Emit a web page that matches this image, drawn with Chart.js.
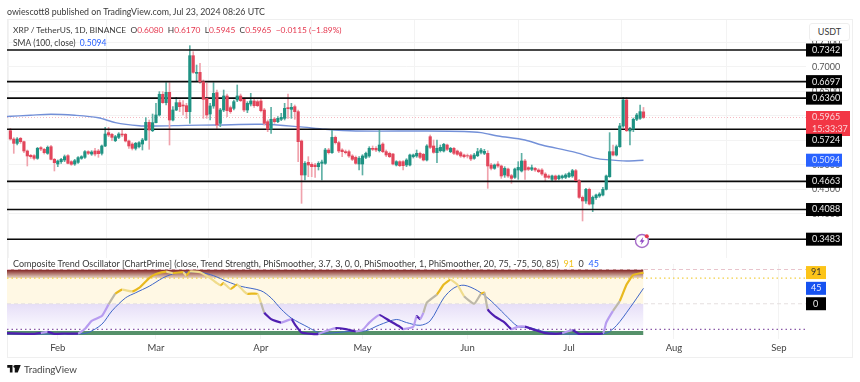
<!DOCTYPE html>
<html>
<head>
<meta charset="utf-8">
<title>XRP / TetherUS</title>
<script src="https://cdn.jsdelivr.net/npm/chart.js@4"></script>
<style>
html, body { margin: 0; padding: 0; background: #fff; }
body { width: 860px; height: 382px; position: relative; overflow: hidden; font-family: Lato, "Open Sans", sans-serif; color: #3a3a3a; }
canvas { position: absolute; left: 0; top: 0; }
#frame { position: absolute; left: 7px; top: 19px; width: 844px; height: 337px; border: 1px solid #efefef; }
.txt { position: absolute; white-space: nowrap; font-size: 9px; line-height: 11px; }
.red { color: #e5384f; }
.blue { color: #2962ff; }
.yel { color: #f2c21a; }
#usdt { position: absolute; left: 809px; top: 23px; width: 39px; height: 16px; border: 1px solid #eee; border-radius: 3px; font-size: 9px; line-height: 16px; text-align: center; background: #fff; }
#logo { position: absolute; left: 7px; top: 365px; }
#bolt { position: absolute; left: 634px; top: 233px; }
</style>
</head>
<body>
<div id="frame"></div>
<canvas id="priceChart" width="860" height="382"></canvas>
<canvas id="oscChart" width="860" height="382"></canvas>

<div class="txt" style="left:7px;top:6px;font-size:8.8px">owiescott8 published on TradingView.com, Jul 23, 2024 08:26 UTC</div>
<div class="txt" style="left:13px;top:25px;font-size:8.4px">XRP / TetherUS, 1D, BINANCE &nbsp;O<span class="red">0.6080</span> &nbsp;H<span class="red">0.6170</span> &nbsp;L<span class="red">0.5945</span> &nbsp;C<span class="red">0.5965</span> &nbsp;<span class="red">−0.0115 (−1.89%)</span></div>
<div class="txt" style="left:13px;top:38px;font-size:8.5px">SMA (100, close) &nbsp;<span class="blue">0.5094</span></div>
<div class="txt" style="left:13px;top:258px">Composite Trend Oscillator [ChartPrime] (close, Trend Strength, PhiSmoother, 3.7, 3, 0, 0, PhiSmoother, 1, PhiSmoother, 20, 75, -75, 50, 85) &nbsp;<span class="yel">91</span> &nbsp;0 &nbsp;<span class="blue">45</span></div>
<div id="usdt">USDT</div>
<svg id="bolt" width="16" height="16" viewBox="0 0 16 16"><circle cx="8" cy="8" r="6.5" fill="#fff" stroke="#a66cc8" stroke-width="1.4"/><path d="M9.2 4 5.6 8.8h2.2L6.8 12 10.6 7.2H8.4z" fill="#8e44c4"/><circle cx="12.8" cy="3.2" r="2" fill="#e5384f"/></svg>
<svg id="logo" width="14" height="9" viewBox="0 0 36 24"><path d="M0 0h14v20H7V7H0zM20 0h16l-8 20h-8z" fill="#111"/><circle cx="20" cy="4" r="3.5" fill="#111"/></svg>
<div class="txt" style="left:24px;top:363px;font-size:9.8px;line-height:13px;color:#444">TradingView</div>

<script>
// day slots on the time axis, Jan 17 to Sep 9 2024
const days = [];
for (let d = new Date(Date.UTC(2024, 0, 17)); d <= new Date(Date.UTC(2024, 8, 9)); d.setUTCDate(d.getUTCDate() + 1)) {
    days.push(d.toISOString().slice(0, 10));
}
const candleDays = days.slice(1, 189);
const monthDays = ['2024-02-01', '2024-03-01', '2024-04-01', '2024-05-01', '2024-06-01', '2024-07-01', '2024-08-01', '2024-09-01'];
const monthNames = ['Feb', 'Mar', 'Apr', 'May', 'Jun', 'Jul', 'Aug', 'Sep'];

const opens = [
    .5696,.5526,.5438,.5540,.5472,.5282,.5194,.5186,.5132,.5350,.5316,.5234,.5370,.5112,.5016,.5064,.5098,.5186,.5064,.5016,
    .5050,.5132,.5153,.5268,.5220,.5282,.5282,.5234,.5384,.5656,.5622,.5492,.5560,.5628,.5622,.5486,.5424,.5336,.5370,.5424,
    .5506,.5866,.5696,.5860,.6016,.6438,.6268,.6478,.5914,.6118,.6268,.6220,.6206,.6084,.7226,.6866,.6886,.6696,.6356,.6036,
    .6200,.6472,.5846,.6118,.6404,.6166,.6152,.6322,.6404,.6336,.6118,.6240,.6302,.6288,.6302,.6118,.5880,.5724,.5934,.5880,
    .5928,.5948,.6166,.6132,.6186,.6084,.5486,.4792,.5050,.5010,.4996,.4962,.5030,.5030,.5302,.5248,.5560,.5452,.5302,.5268,
    .5268,.5180,.5152,.5016,.5016,.5152,.5180,.5336,.5336,.5288,.5424,.5268,.5234,.5220,.4996,.5064,.5064,.4996,.4996,.5166,
    .5180,.5234,.5214,.5098,.5574,.5384,.5248,.5288,.5282,.5404,.5268,.5336,.5282,.5248,.5200,.5186,.5186,.5132,.5186,.5254,
    .5234,.5234,.4996,.4928,.5016,.4976,.4792,.4914,.4778,.4744,.4894,.4874,.5078,.4942,.4908,.4928,.4894,.4894,.4812,.4772,
    .4704,.4772,.4717,.4738,.4744,.4758,.4772,.4880,.4676,.4336,.4262,.4500,.4200,.4330,.4364,.4384,.4500,.4758,.5268,.5200,
    .5370,.5792,.6322,.5690,.5724,.5928,.5948,.6080
];
const highs = [
    .5744,.5554,.5554,.5560,.5486,.5302,.5214,.5207,.5356,.5370,.5336,.5384,.5397,.5132,.5098,.5132,.5200,.5207,.5084,.5112,
    .5166,.5186,.5288,.5288,.5288,.5336,.5316,.5404,.5764,.5764,.5642,.5601,.5656,.5710,.5642,.5506,.5452,.5458,.5472,.5540,
    .5962,.5914,.6036,.6254,.6492,.6492,.6676,.6676,.6186,.6376,.6322,.6308,.6254,.7430,.7308,.7036,.7070,.6730,.6662,.6254,
    .6676,.6526,.6152,.6526,.6444,.6200,.6322,.6628,.6444,.6363,.6288,.6458,.6336,.6322,.6336,.6152,.5914,.6172,.5968,.5982,
    .6050,.6254,.6444,.6254,.6220,.6118,.5506,.5064,.5166,.5044,.5030,.5064,.5098,.5336,.5336,.5724,.5588,.5479,.5329,.5302,
    .5302,.5207,.5180,.5166,.5207,.5261,.5370,.5384,.5370,.5724,.5452,.5302,.5261,.5234,.5084,.5084,.5084,.5125,.5220,.5220,
    .5302,.5261,.5234,.5411,.5608,.5506,.5506,.5404,.5438,.5424,.5356,.5356,.5302,.5275,.5220,.5220,.5214,.5234,.5336,.5336,
    .5316,.5288,.5030,.5016,.5064,.4996,.4962,.4935,.4806,.4935,.5064,.5234,.5112,.4962,.4996,.4948,.4921,.4921,.4840,.4799,
    .4792,.4792,.4792,.4792,.4819,.4853,.4908,.4908,.4704,.4364,.4520,.4527,.4364,.4404,.4432,.4540,.4792,.5656,.5404,.5404,
    .5846,.6376,.6376,.5764,.5955,.6050,.6220,.6170
];
const lows = [
    .5506,.5234,.5404,.5438,.5248,.4976,.5132,.5098,.5112,.5288,.5220,.5214,.5098,.4874,.4962,.5030,.5064,.5016,.4989,.4989,
    .5030,.5112,.5132,.5207,.5193,.5180,.5153,.5200,.5370,.5574,.5492,.5472,.5533,.5574,.5465,.5336,.5302,.5302,.5343,.5302,
    .5492,.5316,.5676,.5852,.5996,.6254,.6220,.5404,.5894,.6104,.6084,.6016,.5948,.5846,.6866,.6696,.6662,.5948,.5948,.5914,
    .6152,.5744,.5778,.6084,.5982,.6050,.6118,.6288,.6288,.6084,.6064,.6200,.6172,.6186,.6077,.5812,.5676,.5642,.5846,.5860,
    .5900,.5914,.5948,.5948,.5928,.5064,.4214,.4690,.4758,.4758,.4744,.4894,.4690,.5010,.5220,.5234,.5424,.5248,.5166,.5220,
    .5152,.5084,.5010,.4894,.4792,.5125,.5152,.5288,.5268,.5261,.5248,.5166,.5146,.4996,.4976,.4962,.4894,.4962,.4976,.5139,
    .5152,.5125,.5078,.5078,.5329,.5234,.5044,.5261,.5261,.5288,.5248,.5207,.5193,.5152,.5139,.5139,.5084,.5112,.5166,.5220,
    .5207,.4520,.4894,.4908,.4948,.4724,.4744,.4744,.4622,.4724,.4704,.4853,.4704,.4880,.4880,.4867,.4840,.4785,.4656,.4717,
    .4676,.4676,.4690,.4710,.4717,.4738,.4744,.4649,.4316,.3854,.4214,.4180,.4044,.4296,.4336,.4364,.4486,.4744,.5180,.5180,
    .5356,.5764,.5676,.5404,.5676,.5900,.5928,.5945
];
const closes = [
    .5526,.5438,.5526,.5472,.5282,.5180,.5166,.5132,.5336,.5322,.5248,.5356,.5112,.5044,.5078,.5112,.5166,.5030,.5010,.5084,
    .5146,.5166,.5268,.5234,.5261,.5220,.5227,.5384,.5628,.5608,.5560,.5574,.5628,.5608,.5486,.5384,.5336,.5438,.5452,.5506,
    .5866,.5710,.5860,.6016,.6438,.6268,.6478,.5914,.6118,.6268,.6186,.6200,.6084,.7226,.6886,.6886,.6696,.6336,.6016,.6200,
    .6458,.5812,.6118,.6404,.6104,.6084,.6288,.6404,.6308,.6118,.6254,.6302,.6206,.6206,.6104,.5846,.5724,.5928,.5880,.5948,
    .5968,.6152,.6145,.6172,.6084,.5472,.4792,.5030,.4996,.4962,.4962,.5030,.5057,.5302,.5248,.5560,.5452,.5282,.5268,.5248,
    .5180,.5112,.5030,.5132,.5180,.5234,.5336,.5316,.5302,.5404,.5268,.5200,.5166,.5016,.5064,.4982,.4982,.5098,.5200,.5200,
    .5234,.5152,.5098,.5384,.5356,.5254,.5336,.5356,.5418,.5316,.5336,.5234,.5214,.5180,.5166,.5180,.5118,.5200,.5268,.5302,
    .5275,.4976,.4928,.4996,.4976,.4772,.4928,.4772,.4724,.4914,.4948,.5078,.4894,.4908,.4942,.4894,.4860,.4812,.4744,.4744,
    .4772,.4704,.4772,.4772,.4792,.4826,.4880,.4676,.4336,.4262,.4500,.4200,.4336,.4384,.4404,.4500,.4772,.5268,.5200,.5370,
    .5792,.6322,.5696,.5724,.5928,.6016,.6084,.5965
];

const smaDays = [0, 7, 13, 20, 27, 32, 39, 44, 53, 62, 75, 86, 94, 103, 124, 135, 140, 145, 153, 158, 167, 174, 177, 183, 188];
const smaValues = [.5985, .6012, .6032, .6010, .5960, .5860, .5798, .5792, .5805, .5812, .5826, .5778, .5724, .5690, .5690, .5680, .5656, .5588, .5506, .5404, .5268, .5132, .5105, .5078, .5094];

const levels = [0.7342, 0.6697, 0.6360, 0.5724, 0.4663, 0.4088, 0.3483];
const lastPrice = 0.5965;
const countdown = '15:33:37';
const smaLast = 0.5094;
const priceTicks = [0.35, 0.40, 0.45, 0.50, 0.55, 0.60, 0.65, 0.70, 0.75];

const oscDays = [0,8,10,12,14,17,21,23,25,28,30,32,34,37,39,42,44,47,49,52,53,54,57,60,62,63,64,66,68,70,71,74,75,76,78,81,84,85,87,90,92,95,97,100,103,105,107,110,113,116,117,120,121,122,123,124,127,129,131,133,135,138,140,141,142,144,147,149,151,153,156,159,162,164,167,169,171,176,177,179,181,183,185,188];
const oscValues = [-86,-88,-85,-82,-88,-87,-87,-74,-50,-36,-2,29,41,36,46,75,87,94,89,92,82,94,92,75,60,54,60,43,56,36,29,29,3,-26,-45,-55,-45,-60,-84,-88,-88,-77,-71,-74,-81,-77,-55,-33,-50,-67,-74,-67,-36,-45,-26,3,27,56,70,56,22,0,29,32,-16,-36,-55,-74,-67,-67,-77,-86,-88,-86,-77,-88,-88,-86,-55,-21,8,56,84,91];
const signalDays = [0,21,24,28,31,35,38,42,46,49,53,57,61,65,69,75,78,81,84,89,92,95,101,106,110,115,118,122,125,129,132,135,139,143,147,151,154,159,164,172,177,180,184,188];
const signalValues = [-88,-88,-84,-60,-21,17,32,51,75,87,92,92,82,65,51,38,17,-16,-42,-69,-84,-86,-81,-79,-62,-46,-55,-63,-50,17,46,54,38,8,-31,-67,-69,-82,-88,-88,-86,-64,-12,45];
const oscLast = 91;
const signalLast = 45;

const fontFamily = 'Lato, "Open Sans", sans-serif';
const upColor = '#1f9283';
const downColor = '#e2465b';
const gridColor = '#f3f3f3';

const points = (idx, vals) => idx.map((d, i) => ({ x: days[d], y: vals[i] }));
const flat = (list, v) => list.map(() => v);

// draws price tags in the right margin, on top of the axis labels
const tagPlugin = {
    id: 'tags',
    afterDraw(chart, args, opts) {
        const c = chart.ctx;
        const y = chart.scales.y;
        const x = chart.chartArea.right;
        c.save();
        c.textBaseline = 'middle';
        opts.items.forEach(t => {
            const py = y.getPixelForValue(t.value) + t.nudge;
            const lines = t.text;
            const h = lines.length > 1 ? 25 : 13;
            c.fillStyle = t.bg;
            c.fillRect(x, py - 6.5, t.width, h);
            c.fillStyle = t.fg;
            c.font = '9px ' + fontFamily;
            lines.forEach((s, i) => c.fillText(s, x + t.pad, py + i * 12));
        });
        c.restore();
    }
};

const levelTags = levels.map(v => ({ value: v, text: [v.toFixed(4)], bg: '#000', fg: '#eee', width: 36, pad: 6, nudge: v === 0.5724 ? 11 : 0 }));

new Chart(document.getElementById('priceChart'), {
    data: {
        labels: days,
        datasets: [
            {
                type: 'line', data: points(smaDays, smaValues), borderColor: '#7390d8', borderWidth: 1.4,
                pointRadius: 0, tension: 0.3, order: 3
            },
            {
                type: 'line', data: flat(days, lastPrice), borderColor: '#f5b8c0', borderWidth: 1,
                borderDash: [1, 2], pointRadius: 0, order: 4
            },
            ...levels.map(v => ({
                type: 'line', data: flat(days, v), borderColor: '#0a0a0a', borderWidth: 1.6, pointRadius: 0, order: 1
            })),
            {
                type: 'bar', grouped: false, order: 2, barThickness: 1,
                data: candleDays.map((d, i) => ({ x: d, y: [lows[i], highs[i]] })),
                backgroundColor: closes.map((v, i) => v >= opens[i] ? '#5fb0a5' : '#f0a3ad')
            },
            {
                type: 'bar', grouped: false, order: 0, barThickness: 2.5,
                data: candleDays.map((d, i) => ({ x: d, y: [opens[i], closes[i]] })),
                backgroundColor: closes.map((v, i) => v >= opens[i] ? upColor : downColor)
            }
        ]
    },
    options: {
        responsive: false,
        animation: false,
        layout: { padding: { left: 7, right: 8, top: 20, bottom: 124 } },
        plugins: {
            legend: { display: false },
            tooltip: { enabled: false },
            tags: {
                items: [
                    { value: lastPrice, text: [lastPrice.toFixed(4), countdown], bg: '#f23645', fg: '#fbd5d9', width: 44, pad: 6, nudge: 0 },
                    ...levelTags,
                    { value: smaLast, text: [smaLast.toFixed(4)], bg: '#2962ff', fg: '#dde6ff', width: 36, pad: 6, nudge: 0 }
                ]
            }
        },
        scales: {
            x: {
                offset: false,
                border: { display: false },
                grid: { color: gridColor, drawTicks: false },
                ticks: { display: false, autoSkip: false },
                afterBuildTicks: s => { s.ticks = monthDays.map(d => ({ value: days.indexOf(d) })); }
            },
            y: {
                position: 'right',
                min: 0.3099,
                max: 0.7954,
                border: { display: false },
                grid: { color: gridColor, drawTicks: false },
                afterBuildTicks: s => { s.ticks = priceTicks.map(v => ({ value: v })); },
                afterFit: s => { s.width = 46; },
                ticks: {
                    color: '#555', padding: 6, font: { size: 9, family: fontFamily },
                    callback: v => v.toFixed(4)
                }
            }
        }
    },
    plugins: [tagPlugin]
});

// oscillator bands only run as far as the data does
const oscRange = days.slice(0, 189);
function bandGradient(from, to, c1, c2) {
    return ctx => {
        const { chart } = ctx;
        if (!chart.chartArea) return c1;
        const y = chart.scales.y;
        const g = chart.ctx.createLinearGradient(0, y.getPixelForValue(from), 0, y.getPixelForValue(to));
        g.addColorStop(0, c1);
        g.addColorStop(1, c2);
        return g;
    };
}
const band = (top, bottom, fill) => ({
    type: 'line', data: flat(oscRange, top), borderWidth: 0, pointRadius: 0,
    fill: { value: bottom }, backgroundColor: fill, order: 5
});
const levelLine = (v, color, dash) => ({
    type: 'line', data: flat(days, v), borderColor: color, borderWidth: 1.2, borderDash: dash, pointRadius: 0, order: 4
});
const oscSegment = c => {
    const a = c.p0.parsed.y, b = c.p1.parsed.y;
    const mid = (a + b) / 2;
    const rising = b >= a;
    if (mid > 15) return rising ? '#e8b91f' : '#f0dc8c';
    if (mid > -15) return '#bdb8a8';
    return rising && mid > -84 ? '#b79cf0' : '#4f1fb0';
};

new Chart(document.getElementById('oscChart'), {
    data: {
        labels: days,
        datasets: [
            band(100, 75, bandGradient(100, 75, '#7d1c1c', '#e9d9c8')),
            band(75, 0, '#fff8e4'),
            band(0, -75, bandGradient(0, -75, '#e6def7', '#fbfaff')),
            band(-80, -91, '#55916a'),
            levelLine(100, '#e8c4cc', [4, 3]),
            levelLine(75, '#f2cf45', [1.5, 3]),
            levelLine(0, '#e5dfe0', [4, 3]),
            levelLine(-75, '#8a5aa8', [1.5, 3]),
            {
                type: 'line', data: points(signalDays, signalValues), borderColor: '#3f66c8', borderWidth: 1,
                pointRadius: 0, tension: 0.3, order: 2
            },
            {
                type: 'line', data: points(oscDays, oscValues), borderColor: '#e8b91f', borderWidth: 2.2,
                pointRadius: 0, tension: 0.15, order: 1,
                segment: { borderColor: oscSegment }
            }
        ]
    },
    options: {
        responsive: false,
        animation: false,
        layout: { padding: { left: 7, right: 8, top: 264, bottom: 25 } },
        plugins: {
            legend: { display: false },
            tooltip: { enabled: false },
            tags: {
                items: [
                    { value: oscLast, text: [String(oscLast)], bg: '#fcc419', fg: '#333', width: 20, pad: 5, nudge: 0 },
                    { value: signalLast, text: [String(signalLast)], bg: '#1652f0', fg: '#eef', width: 20, pad: 5, nudge: 0 },
                    { value: 0, text: ['0'], bg: '#000', fg: '#eee', width: 20, pad: 7, nudge: 0 }
                ]
            }
        },
        scales: {
            x: {
                offset: false,
                border: { display: false },
                grid: { color: gridColor, drawTicks: false },
                afterBuildTicks: s => { s.ticks = monthDays.map(d => ({ value: days.indexOf(d) })); },
                afterFit: s => { s.height = 18; },
                ticks: {
                    autoSkip: false, maxRotation: 0, color: '#444', padding: 3, font: { size: 9.5, family: fontFamily },
                    callback: v => monthNames[monthDays.indexOf(days[v])]
                }
            },
            y: {
                position: 'right',
                min: -103,
                max: 116,
                border: { display: false },
                grid: { display: false },
                afterFit: s => { s.width = 46; },
                ticks: { display: false }
            }
        }
    },
    plugins: [tagPlugin]
});
</script>
</body>
</html>
